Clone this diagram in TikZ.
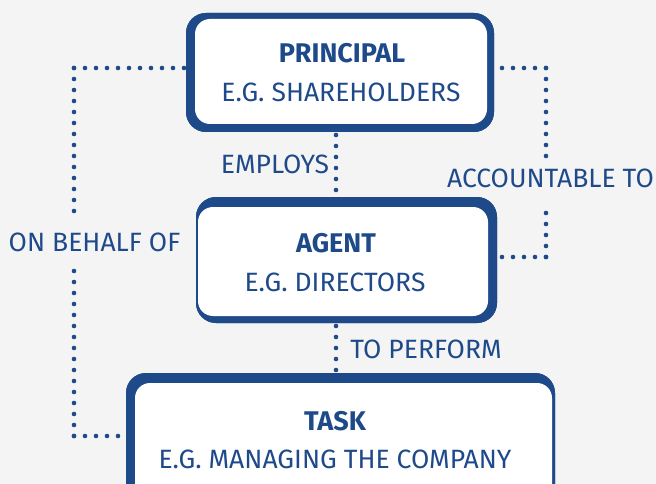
\documentclass[tikz,border=0pt]{standalone}
\usepackage{fontspec}
\setmainfont{Fira Sans}
\definecolor{bg}{HTML}{F4F4F4}
\definecolor{navy}{HTML}{1F4A8A}
\begin{document}
\begin{tikzpicture}[x=1pt,y=-1pt,
  outerbox/.style={fill=navy,draw=none,rounded corners=20pt,inner sep=0pt},
  innerbox/.style={fill=white,draw=none,rounded corners=15pt,inner sep=0pt},
  ttl/.style={text=navy,font=\fontsize{27}{30}\selectfont\bfseries,inner sep=0pt},
  sub/.style={text=navy,font=\fontsize{26.5}{30}\selectfont,inner sep=0pt},
  lbl/.style={text=navy,font=\fontsize{26.5}{30}\selectfont,inner sep=0pt},
  dots/.style={navy,line width=4.6pt,line cap=round,dash pattern=on 0pt off 11pt}]
\fill[bg] (0,0) rectangle (656,484);
\useasboundingbox (0,0) rectangle (656,484);
% outer boxes (shapes)
\node[outerbox,minimum width=308pt,minimum height=119pt] (pO) at (340,72.5) {};
\node[outerbox,minimum width=301pt,minimum height=126pt] (aO) at (346.5,260) {};
\node[outerbox,minimum width=429pt,minimum height=137pt] (tO) at (340.5,441.5) {};
% connector coordinates
\coordinate (L1) at (74,68);
\coordinate (L2) at (74,212);
\coordinate (L3) at (74,266);
\coordinate (L4) at (74,436);
\coordinate (R1) at (546,68);
\coordinate (R2) at (546,158);
\coordinate (R3) at (546,211);
\coordinate (R4) at (546,257);
\coordinate (E) at (336,135);
\coordinate (T) at (336,326);
\draw[dots] (L1) -- (pO.west |- L1);
\draw[dots] (L1) -- (L2);
\draw[dots] (L4) -- (L3);
\draw[dots] (L4) -- (tO.west |- L4);
\draw[dots] (R1) -- (pO.east |- R1);
\draw[dots] (R1) -- (R2);
\draw[dots] (R4) -- (R3);
\draw[dots] (R4) -- (aO.east |- R4);
\draw[dots] (E) -- (E |- aO.north);
\draw[dots] (T) -- (T |- tO.north);
% redraw outer boxes over connector ends
\node[outerbox,minimum width=308pt,minimum height=119pt] at (340,72.5) {};
\node[outerbox,minimum width=301pt,minimum height=126pt] at (346.5,260) {};
\node[outerbox,minimum width=429pt,minimum height=137pt] at (340.5,441.5) {};
% inner white boxes
\node[innerbox,minimum width=292pt,minimum height=105pt] (p) at (341,71.5) {};
\node[innerbox,minimum width=290pt,minimum height=109pt] (a) at (343,261.5) {};
\node[innerbox,minimum width=417pt,minimum height=127pt] (t) at (343.5,446.5) {};
% texts
\node[ttl] (pt) at (342,53) {PRINCIPAL};
\node[sub] (ps) at (341,92) {E.G. SHAREHOLDERS};
\node[ttl] (at) at (336,243) {AGENT};
\node[sub] (as) at (335,282) {E.G. DIRECTORS};
\node[ttl] (tt) at (335,421) {TASK};
\node[sub] (ts) at (335,459) {E.G. MANAGING THE COMPANY};
% labels
\node[lbl] (emp) at (275,164) {EMPLOYS};
\node[lbl] (acc) at (550.5,178) {ACCOUNTABLE TO};
\node[lbl] (beh) at (94.5,242.5) {ON BEHALF OF};
\node[lbl] (per) at (426,349.5) {TO PERFORM};
\end{tikzpicture}
\end{document}
